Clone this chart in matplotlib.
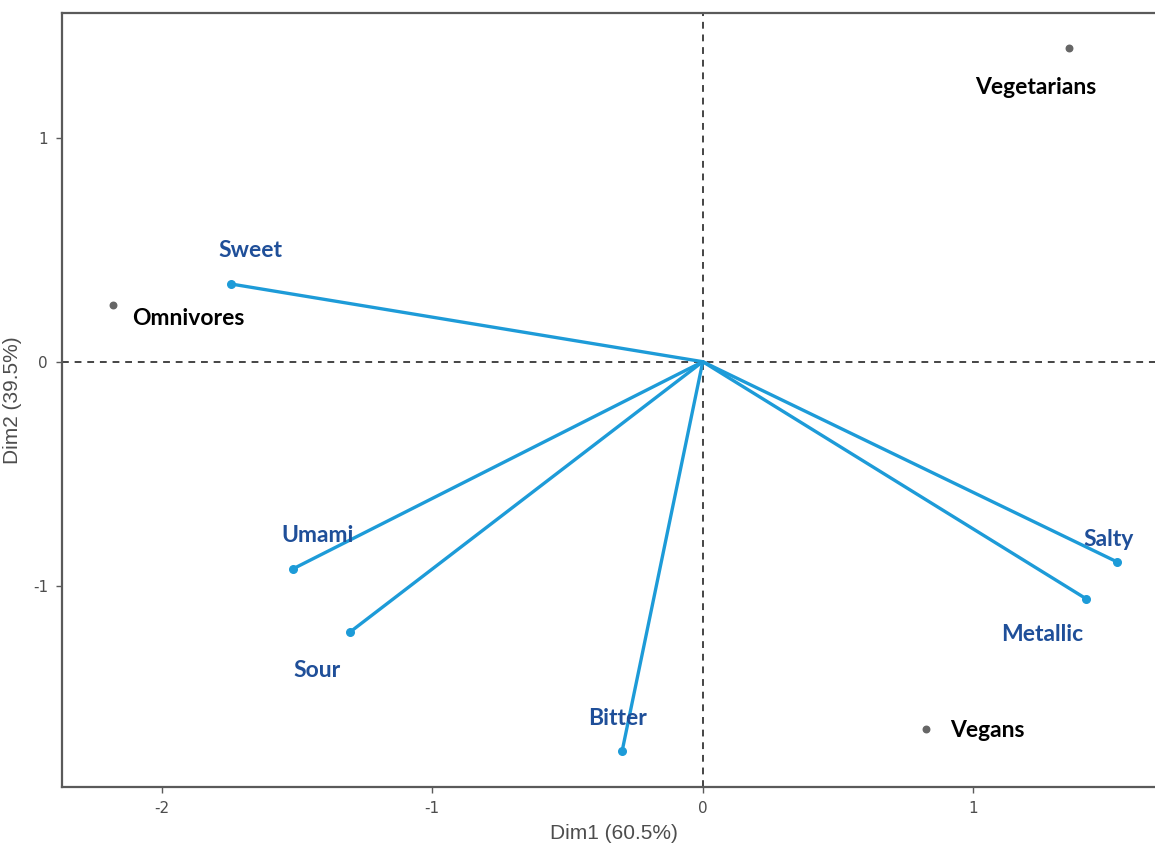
'''
PCA biplot of taste attributes and diet groups
Dim1 vs Dim2, variables drawn as segments from the origin
'''
import numpy as np
import matplotlib
matplotlib.use("Agg")
import matplotlib.pyplot as plt

# taste variables (coordinates on Dim1 / Dim2)
var_names = ['Sweet', 'Umami', 'Sour', 'Bitter', 'Salty', 'Metallic']
var_dim1  = [-1.744, -1.515, -1.304, -0.298, 1.532, 1.418]
var_dim2  = [ 0.347, -0.925, -1.207, -1.738, -0.894, -1.059]

# diet groups
ind_names = ['Omnivores', 'Vegetarians', 'Vegans']
ind_dim1  = [-2.180, 1.354, 0.826]
ind_dim2  = [ 0.253, 1.400, -1.640]

xticks = [-2, -1, 0, 1]
yticks = [-1, 0, 1]

# label offsets in points (dx, dy, ha)
var_offset = {'Sweet': (14, 24, 'center'), 'Umami': (18, 24, 'center'),
              'Sour': (-24, -28, 'center'), 'Bitter': (-3, 23, 'center'),
              'Salty': (-6, 16.5, 'center'), 'Metallic': (-32, -26, 'center')}
ind_offset = {'Omnivores': (13.5, -10, 'left'), 'Vegetarians': (-24, -28.5, 'center'),
              'Vegans': (17, -1, 'left')}


def set_axis_style(ax):
    for side in ['left', 'bottom', 'top', 'right']:
        ax.spines[side].set_color('#5a5a5a')
        ax.spines[side].set_linewidth(1.6)
    ax.tick_params(direction='out', length=4, width=1.0, color='#5a5a5a',
                   labelcolor='#4d4d4d', labelsize=11, pad=6)
    ax.set_xticks(xticks)
    ax.set_yticks(yticks)
    ax.set_xticklabels([str(t) for t in xticks])
    ax.set_yticklabels([str(t) for t in yticks])


def paint_biplot():
    fig = plt.figure(figsize=(11.55, 8.47), dpi=100)
    ax  = fig.add_axes([62/1155, 60/847, 1103/1155, 774/847])

    ax.axhline(0, color='#444444', linestyle=(0, (3.5, 3)), linewidth=1.4, zorder=1)
    ax.axvline(0, color='#444444', linestyle=(0, (3.5, 3)), linewidth=1.4, zorder=1)

    line_color = '#1d9bd8'
    text_color = '#1f4f99'
    for name, x, y in zip(var_names, var_dim1, var_dim2):
        ax.plot([0, x], [0, y], color=line_color, linewidth=2.4, zorder=3,
                solid_capstyle='round')
        ax.scatter(x, y, s=30, color=line_color, zorder=4)
        dx, dy, ha = var_offset[name]
        ax.annotate(name, (x, y), xytext=(dx, dy), textcoords='offset points',
                    ha=ha, va='center', fontsize=16.5, fontweight='bold',
                    family='Lato', color=text_color, zorder=5)

    for name, x, y in zip(ind_names, ind_dim1, ind_dim2):
        ax.scatter(x, y, s=22, color='#666666', zorder=4)
        dx, dy, ha = ind_offset[name]
        ax.annotate(name, (x, y), xytext=(dx, dy), textcoords='offset points',
                    ha=ha, va='center', fontsize=16.5, fontweight='bold',
                    family='Lato', color='black', zorder=5)

    ax.set_xlim(-2.369, 1.709)
    ax.set_ylim(-1.899, 1.557)
    set_axis_style(ax)

    ax.set_xlabel('Dim1 (60.5%)', fontsize=15, color='#4d4d4d',
                  family='Liberation Sans', labelpad=6)
    ax.set_ylabel('Dim2 (39.5%)', fontsize=15, color='#4d4d4d',
                  family='Liberation Sans', labelpad=8)

    fig.savefig('out.png', dpi=100)


def main():
    paint_biplot()


if __name__ == "__main__":
    main()
